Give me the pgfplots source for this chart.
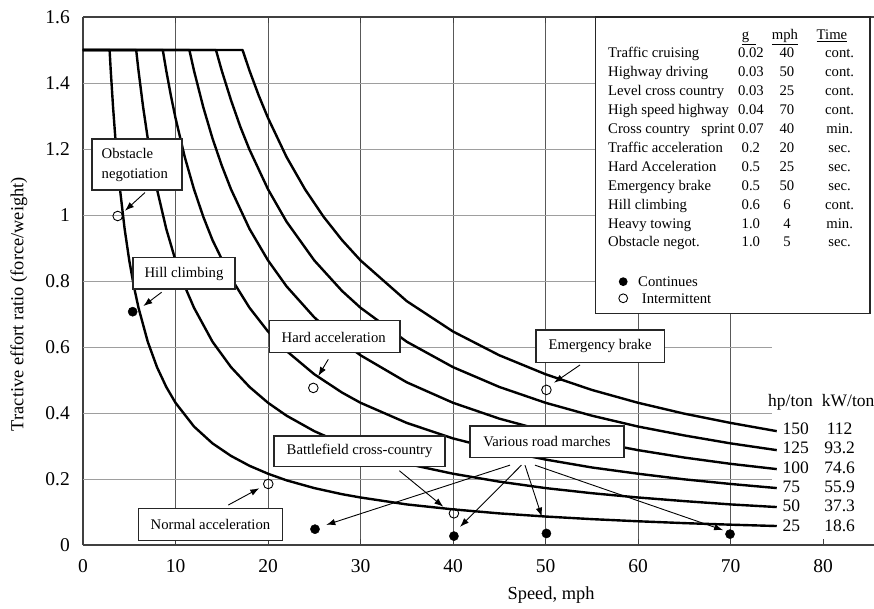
\documentclass[border=0pt]{standalone}
\usepackage{fontspec}
\setmainfont{Liberation Serif}
\usepackage{pgfplots}
\pgfplotsset{compat=1.18}
\usetikzlibrary{arrows.meta}

\definecolor{vgrid}{gray}{0.35}
\definecolor{hgrid}{gray}{0.62}

\begin{document}
\begin{tikzpicture}[
  box/.style={draw=black!85, line width=1.4pt, fill=white},
  lbl/.style={font=\fontsize{14.7}{17}\selectfont, inner sep=0pt},
  big/.style={font=\fontsize{17.5}{19}\selectfont, inner sep=0pt},
  arr/.style={line width=0.9pt, -{Latex[length=9pt,width=6.5pt]}},
]
\begin{axis}[
  name=ax,
  scale only axis,
  width=791pt, height=528pt,
  xmin=0, xmax=85.514, ymin=0, ymax=1.6,
  axis x line=box, axis y line=left,
  axis line style={-, black!75, line width=1.1pt},
  xtick={0,10,20,30,40,50,60,70},
  extra x ticks={80}, extra x tick style={grid=none},
  ytick={0,0.2,0.4,0.6,0.8,1,1.2,1.4,1.6},
  xmajorgrids, ymajorgrids=false,
  x grid style={vgrid, line width=0.8pt},
  tick align=inside, major tick length=6pt,
  tick style={black!75, line width=0.9pt},
  /pgf/number format/assume math mode=true,
  xticklabel style={font=\fontsize{19.5}{20}\selectfont, inner sep=0pt, yshift=-14pt},
  yticklabel style={font=\fontsize{19.5}{20}\selectfont, inner sep=0pt, xshift=-13pt},
  xlabel={Speed, mph},
  xlabel style={at={(axis description cs:0.5917,-0.1032)}, anchor=base, inner sep=0pt,
    font=\fontsize{18.4}{20}\selectfont},
  ylabel={Tractive effort ratio (force/weight)},
  ylabel style={at={(axis description cs:-0.0809,0.4563)}, anchor=center, inner sep=0pt,
    font=\fontsize{18.4}{20}\selectfont},
  curve/.style={black, line width=2.4pt, line join=round, forget plot},
]
% horizontal grid lines, stopping short of the right edge as in the source
\pgfplotsinvokeforeach{0.2,0.4,0.6,0.8,1.0,1.2,1.4}{
  \addplot[hgrid, line width=0.8pt, forget plot] coordinates {(0,#1) (74.5,#1)};
}

% constant power curves, capped at 1.5
% 25 hp/ton
\addplot[curve] coordinates {(0,1.5)(2.875,1.5)(3,1.4375)(3.25,1.327)(3.5,1.232)(3.75,1.15)(4,1.078)(4.5,0.958)(5,0.8625)(5.5,0.784)(6,0.719)(7,0.616)(8,0.539)(9,0.479)(10,0.431)(12,0.359)(14,0.308)(16,0.270)(18,0.240)(20,0.216)(22,0.196)(25,0.1725)(28,0.154)(30,0.144)(35,0.123)(40,0.108)(45,0.0958)(50,0.0863)(55,0.0784)(60,0.0719)(65,0.0663)(70,0.0616)(75,0.0575)};
% 50 hp/ton
\addplot[curve] coordinates {(0,1.5)(5.75,1.5)(6,1.4375)(6.5,1.327)(7,1.232)(7.5,1.15)(8,1.078)(9,0.958)(10,0.8625)(11,0.784)(12,0.719)(14,0.616)(16,0.539)(18,0.479)(20,0.431)(22,0.392)(25,0.345)(28,0.308)(30,0.2875)(35,0.246)(40,0.216)(45,0.192)(50,0.1725)(55,0.157)(60,0.144)(65,0.133)(70,0.123)(75,0.115)};
% 75 hp/ton
\addplot[curve] coordinates {(0,1.5)(8.625,1.5)(9,1.4375)(9.5,1.362)(10,1.294)(11,1.176)(12,1.078)(13,0.995)(14,0.924)(16,0.809)(18,0.719)(20,0.647)(22,0.588)(25,0.5175)(28,0.462)(30,0.431)(35,0.370)(40,0.323)(45,0.2875)(50,0.259)(55,0.235)(60,0.216)(65,0.199)(70,0.185)(75,0.1725)};
% 100 hp/ton
\addplot[curve] coordinates {(0,1.5)(11.5,1.5)(12,1.4375)(13,1.327)(14,1.232)(15,1.15)(16,1.078)(18,0.958)(20,0.8625)(22,0.784)(25,0.69)(28,0.616)(30,0.575)(35,0.493)(40,0.431)(45,0.383)(50,0.345)(55,0.314)(60,0.2875)(65,0.265)(70,0.246)(75,0.23)};
% 125 hp/ton
\addplot[curve] coordinates {(0,1.5)(14.375,1.5)(15,1.4375)(16,1.348)(17,1.268)(18,1.198)(20,1.078)(22,0.980)(25,0.8625)(28,0.770)(30,0.719)(35,0.616)(40,0.539)(45,0.479)(50,0.431)(55,0.392)(60,0.359)(65,0.332)(70,0.308)(75,0.2875)};
% 150 hp/ton
\addplot[curve] coordinates {(0,1.5)(17.25,1.5)(18,1.4375)(19,1.362)(20,1.294)(22,1.176)(24,1.078)(26,0.995)(28,0.924)(30,0.8625)(35,0.739)(40,0.647)(45,0.575)(50,0.5175)(55,0.470)(60,0.431)(65,0.398)(70,0.370)(75,0.345)};

% operating points
\addplot[only marks, mark=*, mark size=4.6pt, black, forget plot]
  coordinates {(5.37,0.707)(25.08,0.048)(40.1,0.027)(50.1,0.035)(69.95,0.033)};
\addplot[only marks, mark=o, mark size=4.8pt, black, line width=0.9pt, forget plot]
  coordinates {(3.75,0.997)(24.9,0.476)(50.1,0.47)(20.03,0.185)(40.1,0.096)};
\end{axis}

\begin{scope}[shift={(ax.south west)}, x=9.25pt, y=330pt]
  % legend table
  \draw[box] (55.43,0.702) rectangle (85.1,1.6);
  \node[lbl, anchor=base west] at (71.2,1.5318) {\underline{g\hspace{7pt}}};
  \node[lbl, anchor=base west] at (74.45,1.5318) {\underline{mph}};
  \node[lbl, anchor=base west] at (79.3,1.5318) {\underline{Time}};
  \foreach \n/\g/\v/\t [count=\i from 0] in {
      Traffic cruising/0.02/40/cont.,
      Highway driving/0.03/50/cont.,
      Level cross country/0.03/25/cont.,
      High speed highway/0.04/70/cont.,
      Cross country\hspace{11pt}sprint/0.07/40/min.,
      Traffic acceleration/0.2/20/sec.,
      Hard Acceleration/0.5/25/sec.,
      Emergency brake/0.5/50/sec.,
      Hill climbing/0.6/6/cont.,
      Heavy towing/1.0/4/min.,
      Obstacle negot./1.0/5/sec.} {
    \pgfmathsetmacro\yy{1.4758-0.05727*\i}
    \node[lbl, anchor=base west] at (56.76,\yy) {\n};
    \node[lbl, anchor=base] at (72.2,\yy) {\g};
    \node[lbl, anchor=base] at (76.1,\yy) {\v};
    \node[lbl, anchor=base] at (81.8,\yy) {\t};
  }
  \fill (58.4,0.798) circle[radius=4.4pt];
  \node[lbl, anchor=base west] at (60.0,0.7836) {Continues};
  \draw[line width=0.9pt] (58.4,0.7476) circle[radius=4.4pt];
  \node[lbl, anchor=base west] at (60.4,0.7333) {Intermittent};

  % curve labels
  \node[big, anchor=base west] at (74.05,0.421) {hp/ton};
  \node[big, anchor=base west] at (79.86,0.421) {kW/ton};
  \foreach \h/\k/\y in {150/112/0.3515, 125/93.2/0.2939, 100/74.6/0.2333,
                        75/55.9/0.1758, 50/37.3/0.1182, 25/18.6/0.0576} {
    \node[big, anchor=west] at (75.6,\y) {\h};
    \node[big] at (81.8,\y) {\k};
  }

  % annotation boxes
  \draw[box] (0.97,1.0758) rectangle (10.70,1.2303);
  \node[lbl, anchor=west, align=left, font=\fontsize{14.7}{20}\selectfont] at (2.0,1.152) {Obstacle\\negotiation};
  \draw[box] (5.41,0.7758) rectangle (16.43,0.8706);
  \node[lbl] at (10.92,0.8227) {Hill climbing};
  \draw[box] (20.14,0.5827) rectangle (34.27,0.6797);
  \node[lbl] at (27.1,0.6303) {Hard acceleration};
  \draw[box] (48.97,0.5536) rectangle (62.84,0.6515);
  \node[lbl] at (55.9,0.603) {Emergency brake};
  \draw[box] (20.65,0.2373) rectangle (39.14,0.3303);
  \node[lbl] at (29.9,0.284) {Battlefield cross-country};
  \draw[box] (41.84,0.2658) rectangle (58.49,0.3606);
  \node[lbl] at (50.16,0.313) {Various road marches};
  \draw[box] (5.98,0.013) rectangle (21.59,0.1112);
  \node[lbl] at (13.78,0.0621) {Normal acceleration};

  % arrows
  \draw[arr] (6.7,1.068) -- (4.54,1.013);
  \draw[arr] (8.5,0.766) -- (6.52,0.724);
  \draw[arr] (26.52,0.5627) -- (25.44,0.5121);
  \draw[arr] (53.73,0.5455) -- (50.92,0.4918);
  \draw[arr] (34.2,0.225) -- (38.95,0.116);
  \draw[arr] (46.16,0.242) -- (26.3,0.061);
  \draw[arr] (47.4,0.242) -- (40.76,0.055);
  \draw[arr] (47.78,0.242) -- (49.6,0.086);
  \draw[arr] (48.86,0.242) -- (69.2,0.045);
  \draw[arr] (15.7,0.121) -- (19.06,0.172);
\end{scope}

\pgfresetboundingbox
\useasboundingbox ([xshift=-83pt,yshift=-63pt]ax.south west) rectangle ([yshift=17pt]ax.north east);
\end{tikzpicture}
\end{document}
